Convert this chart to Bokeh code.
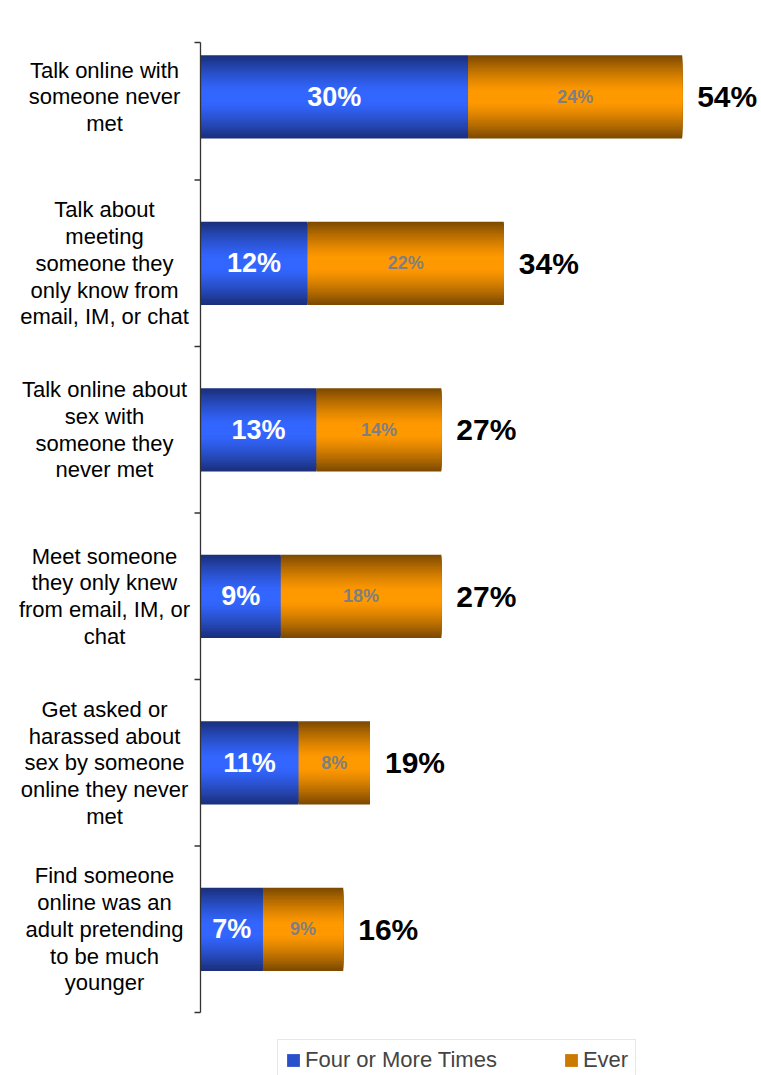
from bokeh.plotting import figure
from bokeh.models import Range1d, ColumnDataSource, Legend, LegendItem
from bokeh.core.properties import value
from bokeh.embed import file_html
from bokeh.resources import INLINE

# ---------------- data ----------------
categories = [
    "Talk online with\nsomeone never\nmet",
    "Talk about\nmeeting\nsomeone they\nonly know from\nemail, IM, or chat",
    "Talk online about\nsex with\nsomeone they\nnever met",
    "Meet someone\nthey only knew\nfrom email, IM, or\nchat",
    "Get asked or\nharassed about\nsex by someone\nonline they never\nmet",
    "Find someone\nonline was an\nadult pretending\nto be much\nyounger",
]
four_or_more = [30, 12, 13, 9, 11, 7]
ever = [24, 22, 14, 18, 8, 9]
totals = [54, 34, 27, 27, 19, 16]
series_names = ["Four or More Times", "Ever"]

# ---------------- style ----------------
FONT = "Liberation Sans"
BLUE_BRIGHT, BLUE_DARK = (0x33, 0x66, 0xFF), (0x1A, 0x2E, 0x78)
ORANGE_BRIGHT, ORANGE_DARK = (0xFF, 0x99, 0x00), (0x7A, 0x48, 0x00)
BAR_H = 0.5
N_LAYERS = 30
PX_PER_X = 8.92
PX_PER_Y = 166.5
W, H = 761, 1075
AXIS_X_PX = 200
AXIS_BOTTOM_PX = 1012
AXIS_TOP_PX = 42

n = len(categories)
y_centers = [n - 0.5 - i for i in range(n)]
x_start = -AXIS_X_PX / PX_PER_X
x_end = (W - AXIS_X_PX) / PX_PER_X
y_end = AXIS_BOTTOM_PX / PX_PER_Y
y_start = -(H - AXIS_BOTTOM_PX) / PX_PER_Y
y_axis_top = (AXIS_BOTTOM_PX - AXIS_TOP_PX) / PX_PER_Y

p = figure(width=W, height=H, output_backend="svg", toolbar_location=None,
           x_range=Range1d(x_start, x_end), y_range=Range1d(y_start, y_end),
           x_axis_location=None, y_axis_location=None,
           min_border=0)
p.grid.visible = False
p.outline_line_color = None
p.background_fill_color = "white"


def hexcol(c):
    return "#%02x%02x%02x" % tuple(int(round(v)) for v in c)


def shade(bright, dark, d):
    f = max(0.0, min(1.0, (d - 0.12) / 0.88)) ** 1.3
    return hexcol([b + (k - b) * f for b, k in zip(bright, dark)])


lefts_ever = four_or_more
rights_ever = [a + b for a, b in zip(four_or_more, ever)]

# nested bars: outer (dark) to inner (bright) to simulate the vertical gradient
legend_refs = {}
for k in range(N_LAYERS):
    h = BAR_H * (1 - k / N_LAYERS)
    d = 1 - (k + 0.5) / N_LAYERS
    rb = p.hbar(y=y_centers, left=0, right=four_or_more, height=h,
                fill_color=shade(BLUE_BRIGHT, BLUE_DARK, d), line_color=None)
    ro = p.hbar(y=y_centers, left=lefts_ever, right=rights_ever, height=h,
                fill_color=shade(ORANGE_BRIGHT, ORANGE_DARK, d), line_color=None)
    if k == int(N_LAYERS * 0.45):
        legend_refs["b"] = rb
        legend_refs["o"] = ro

# axis line and ticks (category boundaries)
tick_len = 6 / PX_PER_X
boundaries = [float(i) for i in range(n)] + [y_axis_top]
p.segment(x0=[0], y0=[0], x1=[0], y1=[y_axis_top], line_color="#333333", line_width=1.3)
p.segment(x0=[-tick_len] * len(boundaries), y0=boundaries, x1=[0] * len(boundaries),
          y1=boundaries, line_color="#333333", line_width=1.3)

# value labels
src = ColumnDataSource(dict(
    y=y_centers,
    xb=[v / 2 for v in four_or_more],
    tb=[f"{v}%" for v in four_or_more],
    xo=[a + b / 2 for a, b in zip(four_or_more, ever)],
    to=[f"{v}%" for v in ever],
    xt=rights_ever,
    tt=[f"{v}%" for v in totals],
    cat=categories,
))
p.text(x="xb", y="y", text="tb", source=src, text_align="center",
       text_baseline="middle", text_color="white", text_font=value(FONT),
       text_font_style="bold", text_font_size="27px")
p.text(x="xo", y="y", text="to", source=src, text_align="center",
       text_baseline="middle", text_color="#7f7f7f", text_font=value(FONT),
       text_font_style="bold", text_font_size="18px")
p.text(x="xt", y="y", text="tt", source=src, text_align="left",
       text_baseline="middle", text_color="black", text_font=value(FONT),
       text_font_style="bold", text_font_size="30px", x_offset=15)

# category labels
p.text(x=-96 / PX_PER_X, y="y", text="cat", source=src, text_align="center",
       text_baseline="middle", text_font=value(FONT), text_font_size="22px",
       text_color="black", text_line_height=1.07)

legend = Legend(items=[LegendItem(label=series_names[0], renderers=[legend_refs["b"]]),
                       LegendItem(label=series_names[1], renderers=[legend_refs["o"]])],
                orientation="horizontal", location=(277, -6),
                label_text_font=FONT, label_text_font_size="22px",
                glyph_width=16, glyph_height=16, label_standoff=4, spacing=66,
                padding=7, border_line_color="#d0d0d0", border_line_width=1.5,
                background_fill_alpha=1.0)
p.add_layout(legend)

open("out.html", "w").write(file_html(p, INLINE))
